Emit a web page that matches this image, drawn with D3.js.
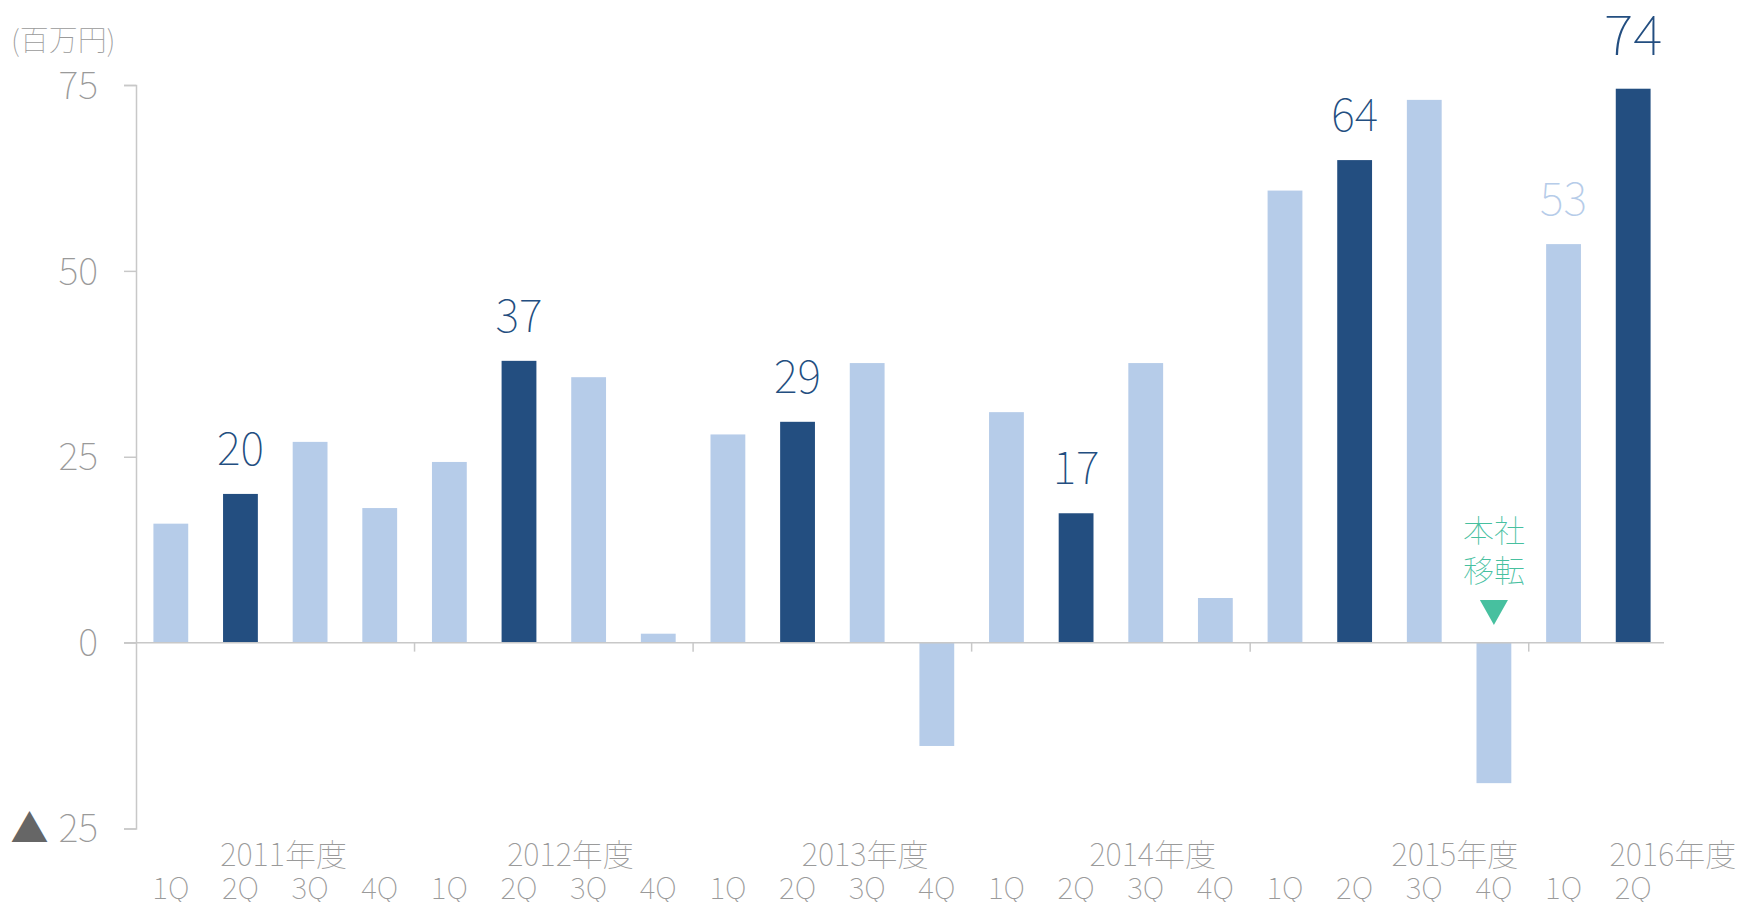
<!DOCTYPE html>
<html>
<head>
<meta charset="utf-8">
<script src="https://cdn.jsdelivr.net/npm/d3@7"></script>
<style>
  body { margin: 0; background: #fff; }
  text { font-family: "Noto Sans CJK JP", "Noto Sans", sans-serif; font-weight: 100; }
</style>
</head>
<body>
<script>
// Data
const fiscalYears = ['2011年度', '2012年度', '2013年度', '2014年度', '2015年度', '2016年度'];
const quarterNames = ['1Q', '2Q', '3Q', '4Q'];
// quarters actually shown, per fiscal year
const quarterCount = [4, 4, 4, 4, 4, 2];
// quarterly profit (百万円)
const values = [
    16.0, 20.0, 27.0, 18.1,
    24.3, 37.9, 35.7, 1.2,
    28.0, 29.7, 37.6, -13.9,
    31.0, 17.4, 37.6, 6.0,
    60.8, 64.9, 73.0, -18.9,
    53.6, 74.5
];
// value labels shown above some bars
const valueLabels = [
    null, '20', null, null,
    null, '37', null, null,
    null, '29', null, null,
    null, '17', null, null,
    null, '64', null, null,
    '53', '74'
];
const yTicks = [75, 50, 25, 0, -25];
const unitLabel = '(百万円)';
const noteLines = ['本社', '移転'];

// Build the quarter list
const bars = [];
fiscalYears.forEach((fy, yi) => {
    for (let q = 0; q < quarterCount[yi]; q++) {
        bars.push({ key: fy + quarterNames[q], year: yi, quarter: quarterNames[q] });
    }
});
bars.forEach((d, i) => { d.value = values[i]; d.label = valueLabels[i]; });

// Set up dimensions
const width = 1748;
const height = 902;
const left = 136;
const right = 1668;

// Colors
const lightBlue = '#b6cce9';
const darkBlue = '#234e80';
const axisGray = '#c8c8c8';
const textGray = '#9a9a9a';
const noteGreen = '#47c09f';

const svg = d3.select('body')
    .append('svg')
    .attr('width', width)
    .attr('height', height);

const x = d3.scaleBand()
    .domain(bars.map(d => d.key))
    .range([left, right])
    .paddingInner(0.5)
    .paddingOuter(0.25);

const y = d3.scaleLinear()
    .domain([-25, 75])
    .range([828.5, 85]);

// Y axis
const yAxis = svg.append('g')
    .attr('transform', `translate(${left},0)`)
    .call(d3.axisLeft(y).tickValues(yTicks).tickSize(12).tickFormat(''));
yAxis.select('.domain').attr('stroke', axisGray).attr('stroke-width', 1.5);
yAxis.selectAll('.tick line').attr('stroke', axisGray).attr('stroke-width', 1.5);

const yLabels = svg.append('g')
    .selectAll('text')
    .data(yTicks)
    .enter()
    .append('text')
    .attr('x', 98)
    .attr('y', d => y(d))
    .attr('dy', '0.36em')
    .style('text-anchor', 'end')
    .style('font-size', '38px')
    .style('fill', textGray);
yLabels.filter(d => d < 0)
    .append('tspan')
    .style('fill', '#666')
    .style('font-weight', 400)
    .text('▲');
yLabels.append('tspan')
    .attr('dx', d => d < 0 ? 10 : 0)
    .text(d => Math.abs(d));

// Unit label
svg.append('text')
    .attr('x', 11)
    .attr('y', 51)
    .style('font-size', '29px')
    .style('fill', textGray)
    .text(unitLabel);

// Bars
svg.selectAll('rect.bar')
    .data(bars)
    .enter()
    .append('rect')
    .attr('class', 'bar')
    .attr('x', d => x(d.key))
    .attr('width', x.bandwidth())
    .attr('y', d => y(Math.max(0, d.value)))
    .attr('height', d => Math.abs(y(d.value) - y(0)))
    .attr('fill', d => d.quarter === '2Q' ? darkBlue : lightBlue);

// X axis (zero line) with year separators
svg.append('line')
    .attr('x1', left - 12)
    .attr('x2', right - 4)
    .attr('y1', y(0))
    .attr('y2', y(0))
    .attr('stroke', axisGray)
    .attr('stroke-width', 1.5);

const separators = bars.filter((d, i) => i > 0 && d.quarter === '1Q');
svg.selectAll('line.sep')
    .data(separators)
    .enter()
    .append('line')
    .attr('class', 'sep')
    .attr('x1', d => x(d.key) - x.step() * x.paddingInner() / 2)
    .attr('x2', d => x(d.key) - x.step() * x.paddingInner() / 2)
    .attr('y1', y(0))
    .attr('y2', y(0) + 9)
    .attr('stroke', axisGray)
    .attr('stroke-width', 1.5);

// Value labels
const cx = d => x(d.key) + x.bandwidth() / 2;
svg.selectAll('text.value')
    .data(bars.filter(d => d.label))
    .enter()
    .append('text')
    .attr('class', 'value')
    .attr('x', cx)
    .attr('y', d => y(d.value) - (d.key === '2016年度2Q' ? 34 : 29))
    .style('text-anchor', 'middle')
    .style('font-size', d => d.key === '2016年度2Q' ? '56px' : '45px')
    .style('fill', d => d.quarter === '2Q' ? darkBlue : lightBlue)
    .text(d => d.label);

// Quarter labels
svg.selectAll('text.quarter')
    .data(bars)
    .enter()
    .append('text')
    .attr('class', 'quarter')
    .attr('x', cx)
    .attr('y', 899)
    .style('text-anchor', 'middle')
    .style('font-size', '30px')
    .style('fill', textGray)
    .text(d => d.quarter);

// Year labels (placed by hand in the original, given in quarter steps)
const yearLabelAt = [1.62, 5.74, 9.97, 14.10, 18.44, 21.57];
svg.selectAll('text.year')
    .data(fiscalYears)
    .enter()
    .append('text')
    .attr('class', 'year')
    .attr('x', (d, i) => left + x.step() * (yearLabelAt[i] + 0.5))
    .attr('y', 866)
    .style('text-anchor', 'middle')
    .style('font-size', '31px')
    .style('fill', textGray)
    .text(d => d);

// Head office move note
const moved = bars.find(d => d.key === '2015年度4Q');
const note = svg.append('g')
    .attr('transform', `translate(${cx(moved)},0)`);
note.selectAll('text')
    .data(noteLines)
    .enter()
    .append('text')
    .attr('y', (d, i) => 542 + i * 40)
    .style('text-anchor', 'middle')
    .style('font-size', '31px')
    .style('fill', noteGreen)
    .text(d => d);
note.append('path')
    .attr('d', 'M-14,600 L14,600 L0,625 Z')
    .attr('fill', noteGreen);
</script>
</body>
</html>
